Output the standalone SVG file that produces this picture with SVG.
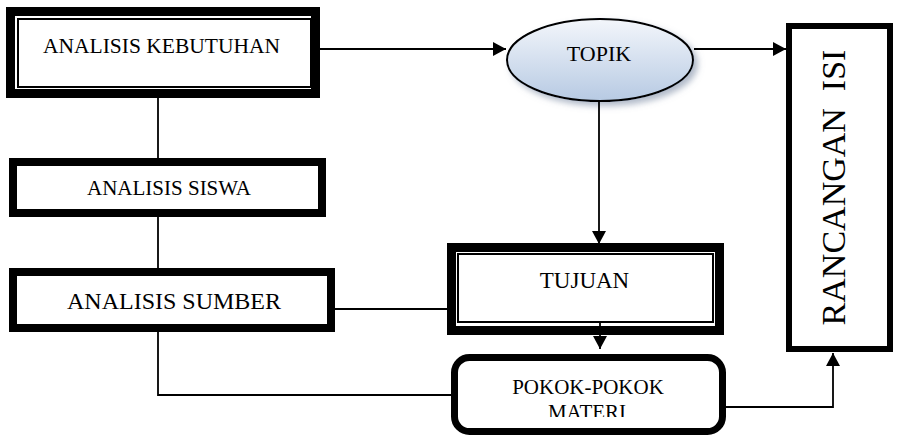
<svg xmlns="http://www.w3.org/2000/svg" width="898" height="435" viewBox="0 0 898 435">
  <style>
    .label { font-family: "Liberation Serif", "Times New Roman", serif; fill: #000; text-anchor: middle; }
    .thick { fill: #fff; stroke: #000; }
    .inner { fill: none; stroke: #000; stroke-width: 2; }
    .wire { fill: none; stroke: #000; stroke-width: 1.8; }
  </style>
  <defs>
    <marker id="arrow" markerUnits="userSpaceOnUse" markerWidth="14" markerHeight="14" refX="13" refY="7" orient="auto">
      <path d="M0,0 L13,7 L0,14 Z" fill="#000"/>
    </marker>
    <linearGradient id="topikFill" x1="0" y1="0" x2="0" y2="1">
      <stop offset="0" stop-color="#f3f6fb"/>
      <stop offset="1" stop-color="#b7cae3"/>
    </linearGradient>
    <filter id="softShadow" x="-20%" y="-30%" width="150%" height="170%">
      <feDropShadow dx="4" dy="4" stdDeviation="3" flood-color="#6f819c" flood-opacity="0.55"/>
    </filter>
    <clipPath id="pokokClip">
      <rect x="456" y="362" width="262" height="55"/>
    </clipPath>
  </defs>

  <!-- ANALISIS KEBUTUHAN -->
  <g id="analisis-kebutuhan">
    <rect class="thick" x="10.5" y="11.5" width="305" height="82" stroke-width="9"/>
    <rect class="inner" x="18" y="19" width="293" height="68"/>
    <text class="label" x="161.5" y="53" font-size="21.5">ANALISIS KEBUTUHAN</text>
  </g>

  <!-- ANALISIS SISWA -->
  <g id="analisis-siswa">
    <rect class="thick" x="13" y="162" width="309" height="51" stroke-width="8"/>
    <text class="label" x="169" y="195" font-size="21">ANALISIS SISWA</text>
  </g>

  <!-- ANALISIS SUMBER -->
  <g id="analisis-sumber">
    <rect class="thick" x="13" y="272" width="318" height="56" stroke-width="8"/>
    <text class="label" x="174" y="309" font-size="24">ANALISIS SUMBER</text>
  </g>

  <!-- TOPIK -->
  <g id="topik">
    <ellipse cx="600" cy="60" rx="93" ry="41" fill="url(#topikFill)" stroke="#000" stroke-width="2" filter="url(#softShadow)"/>
    <text class="label" x="599" y="61" font-size="22">TOPIK</text>
  </g>

  <!-- TUJUAN -->
  <g id="tujuan">
    <rect class="thick" x="451.5" y="247.5" width="268" height="83" stroke-width="9"/>
    <rect class="inner" x="458" y="254" width="255" height="68"/>
    <text class="label" x="584.5" y="288" font-size="23">TUJUAN</text>
  </g>

  <!-- POKOK-POKOK MATERI -->
  <g id="pokok-materi">
    <rect class="thick" x="454.5" y="357.5" width="268" height="74" rx="15" ry="15" stroke-width="7"/>
    <g clip-path="url(#pokokClip)">
      <text class="label" x="588" y="394" font-size="21">POKOK-POKOK</text>
      <text class="label" x="587" y="419" font-size="21">MATERI</text>
    </g>
  </g>

  <!-- RANCANGAN ISI -->
  <g id="rancangan-isi">
    <rect class="thick" x="789" y="26" width="101" height="323" stroke-width="6"/>
    <text class="label" transform="translate(845,187.5) rotate(-90)" x="0" y="0" font-size="34" xml:space="preserve">RANCANGAN  ISI</text>
  </g>

  <!-- connectors, drawn over the boxes -->
  <g id="connectors">
    <line class="wire" x1="158" y1="98" x2="158" y2="158"/>
    <line class="wire" x1="158" y1="217" x2="158" y2="268"/>
    <polyline class="wire" points="158,332 158,395 451,395"/>
    <line class="wire" x1="335" y1="309" x2="447" y2="309"/>
    <line class="wire" x1="320" y1="49" x2="506" y2="49" marker-end="url(#arrow)"/>
    <line class="wire" x1="694" y1="49" x2="786" y2="49" marker-end="url(#arrow)"/>
    <line class="wire" x1="599" y1="102" x2="599" y2="244" marker-end="url(#arrow)"/>
    <line class="wire" x1="600" y1="321" x2="600" y2="349" marker-end="url(#arrow)"/>
    <polyline class="wire" points="726,407 833,407 833,353" marker-end="url(#arrow)"/>
  </g>
</svg>
